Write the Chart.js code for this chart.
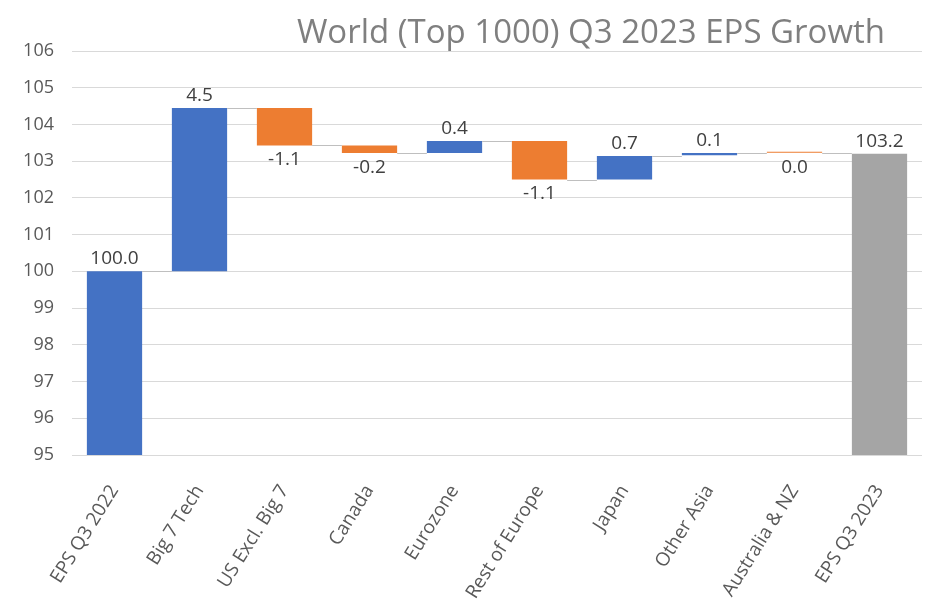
<!DOCTYPE html>
<html>
<head>
<meta charset="utf-8">
<script src="https://cdn.jsdelivr.net/npm/chart.js@4.4.0/dist/chart.umd.min.js"></script>
<style>
  html, body { margin: 0; padding: 0; background: #fff; }
  #wrap { width: 930px; height: 609px; position: relative; }
</style>
</head>
<body>
<div id="wrap"><canvas id="chartEPS"></canvas></div>
<script>
// --- Datos (waterfall EPS Q3 2023) ---
const categories = ["EPS Q3 2022", "Big 7 Tech", "US Excl. Big 7", "Canada", "Eurozone",
  "Rest of Europe", "Japan", "Other Asia", "Australia & NZ", "EPS Q3 2023"];
// nivel antes / después de cada barra
const barStart = [95, 100, 104.45, 103.43, 103.22, 103.55, 102.5, 103.16, 103.26, 95];
const barEnd = [100, 104.45, 103.43, 103.22, 103.55, 102.5, 103.14, 103.22, 103.23, 103.2];
const valueLabels = ["100.0", "4.5", "-1.1", "-0.2", "0.4", "-1.1", "0.7", "0.1", "0.0", "103.2"];
const barColors = ["#4472C4", "#4472C4", "#ED7D31", "#ED7D31", "#4472C4",
  "#ED7D31", "#4472C4", "#4472C4", "#ED7D31", "#A5A5A5"];
const labelBelow = [false, false, true, true, false, true, false, false, true, false];
const yTicks = [95, 96, 97, 98, 99, 100, 101, 102, 103, 104, 105, 106];

const FONT = "'Open Sans', sans-serif";

// --- Plugin: líneas conectoras + etiquetas de valor + título ---
const waterfallExtras = {
  id: "waterfallExtras",
  afterDatasetsDraw(chart) {
    const { ctx, scales } = chart;
    const meta = chart.getDatasetMeta(0);
    const y = scales.y;
    ctx.save();
    // conectores
    ctx.strokeStyle = "#bfbfbf";
    ctx.lineWidth = 1;
    for (let i = 0; i < meta.data.length - 1; i++) {
      const a = meta.data[i], b = meta.data[i + 1];
      const lvl = Math.round(y.getPixelForValue(barEnd[i])) + 0.5;
      ctx.beginPath();
      ctx.moveTo(a.x + a.width / 2, lvl);
      ctx.lineTo(b.x - b.width / 2, lvl);
      ctx.stroke();
    }
    // etiquetas
    ctx.font = "19px " + FONT;
    ctx.fillStyle = "#404040";
    ctx.textAlign = "center";
    meta.data.forEach((bar, i) => {
      const top = y.getPixelForValue(Math.max(barStart[i], barEnd[i]));
      const bot = y.getPixelForValue(Math.min(barStart[i], barEnd[i]));
      if (labelBelow[i]) {
        ctx.textBaseline = "top";
        ctx.fillText(valueLabels[i], bar.x, bot + 5);
      } else {
        ctx.textBaseline = "bottom";
        ctx.fillText(valueLabels[i], bar.x, top - 3);
      }
    });
    // título
    ctx.font = "33px " + FONT;
    ctx.fillStyle = "#7f7f7f";
    ctx.textAlign = "right";
    ctx.textBaseline = "alphabetic";
    ctx.fillText("World (Top 1000) Q3 2023 EPS Growth", 885, 43);
    ctx.restore();
  },
};

const ctx = document.getElementById("chartEPS");
new Chart(ctx, {
  type: "bar",
  data: {
    labels: categories,
    datasets: [{
      data: categories.map((_, i) => [barStart[i], barEnd[i]]),
      backgroundColor: barColors,
      borderWidth: 0,
      barPercentage: 0.65,
      categoryPercentage: 1,
      borderSkipped: false,
    }],
  },
  options: {
    responsive: true,
    maintainAspectRatio: false,
    animation: false,
    layout: { padding: { top: 51, right: 8, left: 10, bottom: 0 } },
    plugins: { legend: { display: false }, tooltip: { enabled: false }, title: { display: false } },
    scales: {
      x: {
        grid: { display: false },
        border: { display: false },
        afterFit: (s) => { s.height = 154; },
        ticks: {
          color: "#595959",
          font: { family: FONT, size: 19 },
          minRotation: 58,
          maxRotation: 58,
          padding: 18,
          autoSkip: false,
        },
      },
      y: {
        min: 95,
        max: 106,
        afterBuildTicks: (s) => { s.ticks = yTicks.map((v) => ({ value: v })); },
        afterFit: (s) => { s.width = 62; },
        grid: { color: "#d9d9d9", drawTicks: false },
        border: { display: false },
        ticks: {
          color: "#595959",
          font: { family: FONT, size: 18 },
          padding: 18,
        },
      },
    },
  },
  plugins: [waterfallExtras],
});
</script>
</body>
</html>
